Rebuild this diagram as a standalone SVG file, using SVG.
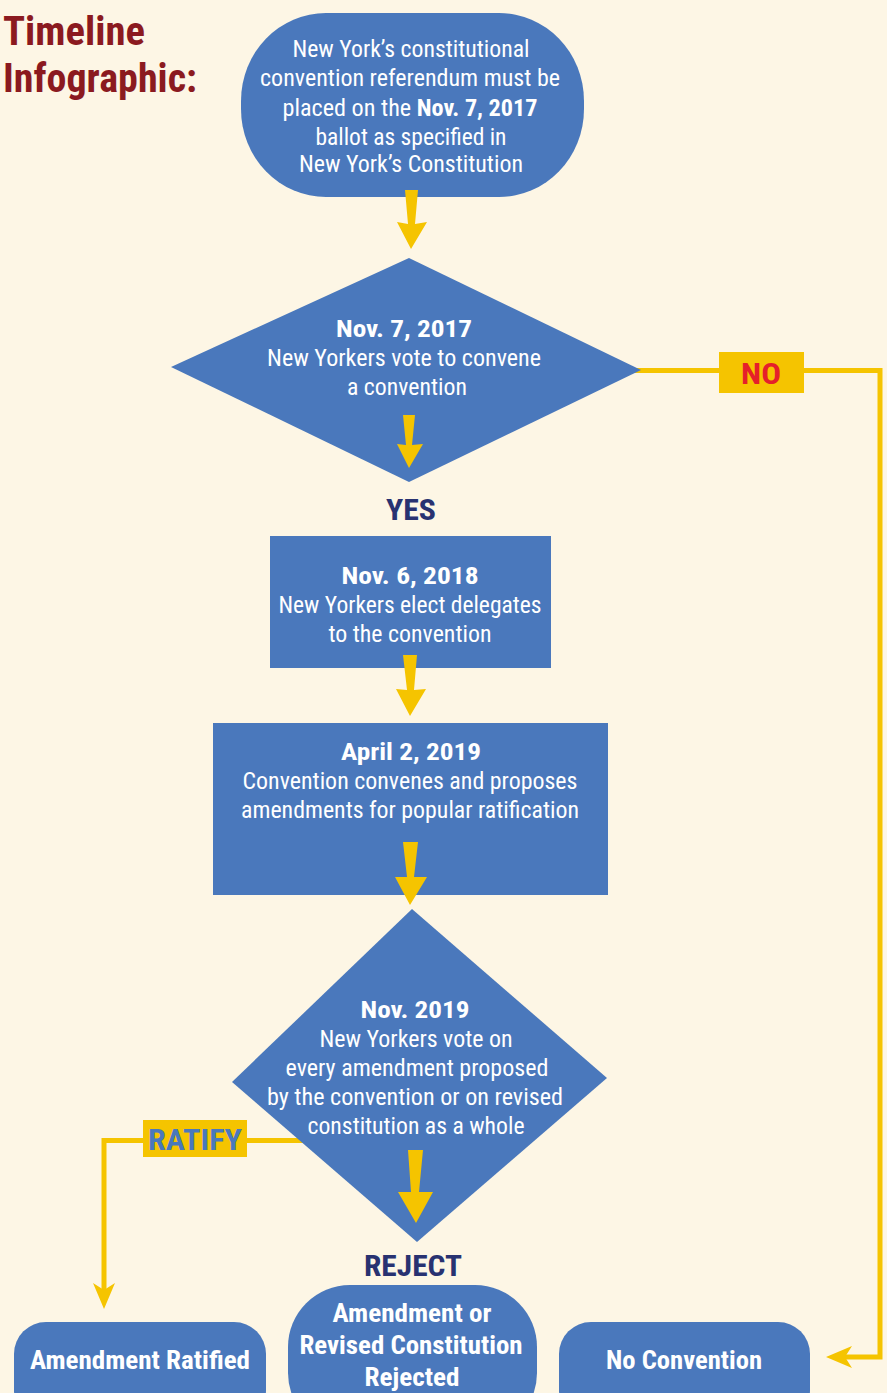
<svg xmlns="http://www.w3.org/2000/svg" width="887" height="1393" viewBox="0 0 887 1393">
<defs>
<style>
.bg{fill:#FDF6E5}
.node{fill:#4A78BC}
.t{font-family:"Liberation Sans Narrow","Roboto Condensed","Liberation Sans",Roboto,sans-serif;fill:#FFFFFF;font-size:23px;text-anchor:middle}
.b{font-weight:bold}
.title{font-family:"Liberation Sans Narrow","Roboto Condensed","Liberation Sans",sans-serif;font-weight:bold;fill:#8B1A1F;font-size:41px}
.lbl{font-family:"Liberation Sans Narrow","Roboto Condensed","Liberation Sans",sans-serif;font-weight:bold;fill:#283271;font-size:30px;text-anchor:middle}
.conn{fill:none;stroke:#F5C400;stroke-width:5}
.arrow{fill:#F5C400}
.tag{fill:#F5C400}
</style>
<marker id="barb" viewBox="-8 -12 28 24" refX="0" refY="0" markerWidth="28" markerHeight="24" markerUnits="userSpaceOnUse" orient="auto">
<path d="M19,0 L-7,-11 L0,0 L-7,11 Z" fill="#F5C400"/>
</marker>
</defs>
<rect class="bg" x="0" y="0" width="887" height="1393"/>

<g id="title">
<text class="title" x="3" y="45" textLength="142" lengthAdjust="spacingAndGlyphs">Timeline</text>
<text class="title" x="3" y="92" textLength="194" lengthAdjust="spacingAndGlyphs">Infographic:</text>
</g>

<g id="connectors">
<path class="conn" d="M630,370.5 H880 V1357 H845" marker-end="url(#barb)"/>
<path class="conn" d="M305,1140.5 H104 V1290" marker-end="url(#barb)"/>
<g id="label-no">
<rect class="tag" x="719" y="352" width="85" height="41"/>
<text class="t b" x="761" y="384" style="fill:#E5202A;font-size:30px" textLength="40" lengthAdjust="spacingAndGlyphs">NO</text>
</g>
<g id="label-ratify">
<rect class="tag" x="143" y="1120" width="104" height="37"/>
<text class="t b" x="195" y="1150" style="fill:#4A78BC;font-size:30px" textLength="94" lengthAdjust="spacingAndGlyphs">RATIFY</text>
</g>
<g id="label-yes"><text class="lbl" x="411" y="520" textLength="50" lengthAdjust="spacingAndGlyphs">YES</text></g>
<g id="label-reject"><text class="lbl" x="413" y="1276" textLength="98" lengthAdjust="spacingAndGlyphs">REJECT</text></g>
</g>

<g id="n-start">
<rect class="node" x="241" y="13" width="343" height="184" rx="85" ry="88"/>
<text class="t" x="411" y="57" textLength="237" lengthAdjust="spacingAndGlyphs">New York’s constitutional</text>
<text class="t" x="410" y="86" textLength="300" lengthAdjust="spacingAndGlyphs">convention referendum must be</text>
<text class="t" x="410" y="116" textLength="255" lengthAdjust="spacingAndGlyphs">placed on the <tspan class="b">Nov. 7, 2017</tspan></text>
<text class="t" x="411" y="145" textLength="191" lengthAdjust="spacingAndGlyphs">ballot as specified in</text>
<text class="t" x="411" y="172" textLength="224" lengthAdjust="spacingAndGlyphs">New York’s Constitution</text>
</g>

<g id="n-vote2017">
<polygon class="node" points="171,367 409,258 641,370 409,482"/>
<text class="t b" x="404" y="337" textLength="136" lengthAdjust="spacingAndGlyphs">Nov. 7, 2017</text>
<text class="t" x="404" y="366" textLength="274" lengthAdjust="spacingAndGlyphs">New Yorkers vote to convene</text>
<text class="t" x="407" y="395" textLength="120" lengthAdjust="spacingAndGlyphs">a convention</text>
</g>

<g id="n-elect2018">
<rect class="node" x="270" y="536" width="281" height="132"/>
<text class="t b" x="410" y="584" textLength="137" lengthAdjust="spacingAndGlyphs">Nov. 6, 2018</text>
<text class="t" x="410" y="613" textLength="263" lengthAdjust="spacingAndGlyphs">New Yorkers elect delegates</text>
<text class="t" x="410" y="642" textLength="163" lengthAdjust="spacingAndGlyphs">to the convention</text>
</g>

<g id="n-convene2019">
<rect class="node" x="213" y="723" width="395" height="172"/>
<text class="t b" x="411" y="760" textLength="140" lengthAdjust="spacingAndGlyphs">April 2, 2019</text>
<text class="t" x="410" y="789" textLength="335" lengthAdjust="spacingAndGlyphs">Convention convenes and proposes</text>
<text class="t" x="410" y="818" textLength="338" lengthAdjust="spacingAndGlyphs">amendments for popular ratification</text>
</g>

<g id="n-vote2019">
<polygon class="node" points="232,1082 412,909 607,1078 417,1242"/>
<text class="t b" x="415" y="1018" textLength="109" lengthAdjust="spacingAndGlyphs">Nov. 2019</text>
<text class="t" x="416" y="1047" textLength="193" lengthAdjust="spacingAndGlyphs">New Yorkers vote on</text>
<text class="t" x="417" y="1076" textLength="263" lengthAdjust="spacingAndGlyphs">every amendment proposed</text>
<text class="t" x="415" y="1105" textLength="296" lengthAdjust="spacingAndGlyphs">by the convention or on revised</text>
<text class="t" x="416" y="1134" textLength="217" lengthAdjust="spacingAndGlyphs">constitution as a whole</text>
</g>

<g id="flow-arrows">
<polygon class="arrow" points="405,190 418,190 415,224 427,222 411,249 397,222 408,224"/>
<polygon class="arrow" points="403,415 415,415 412,445 423,444 409,468 397,444 406,445"/>
<polygon class="arrow" points="403,655 417,655 414,690 426,689 410,716 396,689 407,690"/>
<polygon class="arrow" points="403,842 418,842 414,877 427,877 410,905 395,877 407,877"/>
<polygon class="arrow" points="408,1150 423,1150 419,1192 433,1192 416,1223 398,1192 411,1192"/>
</g>

<g id="n-ratified">
<rect class="node" x="14" y="1322" width="252" height="100" rx="32" ry="32"/>
<text class="t b" x="140" y="1369" style="font-size:25px" textLength="220" lengthAdjust="spacingAndGlyphs">Amendment Ratified</text>
</g>

<g id="n-rejected">
<rect class="node" x="288" y="1285" width="249" height="150" rx="62" ry="62"/>
<text class="t b" x="412" y="1322" style="font-size:25px" textLength="159" lengthAdjust="spacingAndGlyphs">Amendment or</text>
<text class="t b" x="411" y="1354" style="font-size:25px" textLength="223" lengthAdjust="spacingAndGlyphs">Revised Constitution</text>
<text class="t b" x="412" y="1386" style="font-size:25px" textLength="95" lengthAdjust="spacingAndGlyphs">Rejected</text>
</g>

<g id="n-noconvention">
<rect class="node" x="559" y="1322" width="251" height="100" rx="32" ry="32"/>
<text class="t b" x="684" y="1369" style="font-size:25px" textLength="156" lengthAdjust="spacingAndGlyphs">No Convention</text>
</g>
</svg>
